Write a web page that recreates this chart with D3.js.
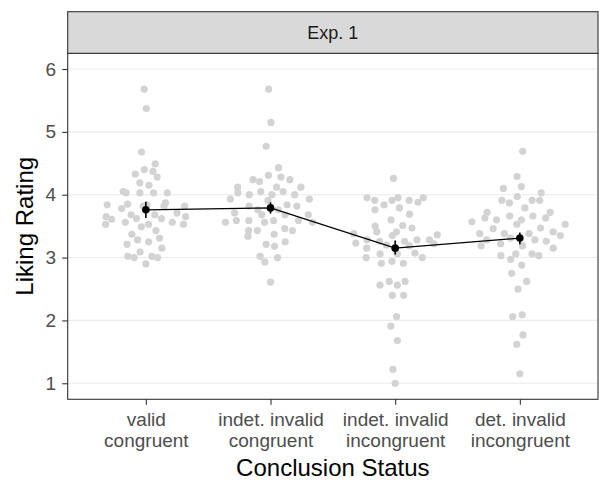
<!DOCTYPE html>
<html>
<head>
<meta charset="utf-8">
<script src="https://cdn.jsdelivr.net/npm/d3@7"></script>
<style>
  body { margin: 0; background: #fff; }
  svg { display: block; font-family: "Liberation Sans", Arial, sans-serif; }
</style>
</head>
<body>
<div id="viz"></div>
<script>
// conditions on the x axis
const categories = ['valid congruent', 'indet. invalid congruent', 'indet. invalid incongruent', 'det. invalid incongruent'];
const tickLabels = [['valid', 'congruent'], ['indet. invalid', 'congruent'], ['indet. invalid', 'incongruent'], ['det. invalid', 'incongruent']];
const yTicks = [1, 2, 3, 4, 5, 6];

// participant liking ratings per condition
const validCongruent = [5.68, 5.37, 4.68, 4.49, 4.40, 4.37, 4.33, 4.28, 4.19, 4.15, 4.05, 4.03, 4.03, 4.03, 4.03,
    3.87, 3.85, 3.84, 3.84, 3.82, 3.82, 3.82, 3.78, 3.71, 3.68, 3.68, 3.65, 3.65, 3.62, 3.62, 3.61, 3.56, 3.56,
    3.53, 3.53, 3.53, 3.49, 3.43, 3.37, 3.31, 3.28, 3.25, 3.21, 3.15, 3.09, 3.02, 3.02, 3.00, 3.00, 2.90];
const indetInvalidCongruent = [5.68, 5.15, 4.77, 4.43, 4.31, 4.28, 4.24, 4.24, 4.21, 4.12, 4.12, 4.12, 4.05, 4.05,
    4.03, 4.00, 4.00, 4.00, 3.93, 3.93, 3.91, 3.84, 3.82, 3.82, 3.76, 3.76, 3.71, 3.68, 3.68, 3.68, 3.59, 3.59,
    3.59, 3.59, 3.56, 3.56, 3.56, 3.46, 3.43, 3.43, 3.43, 3.37, 3.34, 3.25, 3.21, 3.18, 3.02, 3.00, 2.93, 2.61];
const indetInvalidIncongruent = [4.26, 3.95, 3.95, 3.95, 3.91, 3.91, 3.91, 3.88, 3.84, 3.79, 3.76, 3.69, 3.60,
    3.51, 3.50, 3.47, 3.41, 3.41, 3.38, 3.36, 3.35, 3.28, 3.28, 3.28, 3.26, 3.26, 3.23, 3.22, 3.20, 3.19, 3.15,
    3.07, 3.06, 3.06, 3.00, 3.00, 2.94, 2.91, 2.91, 2.62, 2.62, 2.56, 2.56, 2.40, 2.40, 2.06, 1.91, 1.68, 1.22, 1.00];
const detInvalidIncongruent = [4.69, 4.29, 4.13, 4.10, 4.03, 3.97, 3.91, 3.91, 3.91, 3.87, 3.79, 3.72, 3.72, 3.66,
    3.66, 3.63, 3.63, 3.60, 3.60, 3.57, 3.53, 3.53, 3.47, 3.46, 3.41, 3.38, 3.38, 3.38, 3.35, 3.31, 3.28, 3.28,
    3.26, 3.22, 3.19, 3.19, 3.15, 3.06, 3.06, 3.03, 3.03, 2.97, 2.88, 2.75, 2.62, 2.50, 2.09, 2.06, 1.77, 1.62, 1.15];

// condition means with error bars
const meanRatings = [3.76, 3.79, 3.15, 3.31];
const ciLower = [3.63, 3.70, 3.05, 3.21];
const ciUpper = [3.89, 3.88, 3.27, 3.40];

const ratings = [validCongruent, indetInvalidCongruent, indetInvalidIncongruent, detInvalidIncongruent];

const width = 599;
const height = 483;
const panel = { left: 67.7, right: 598, top: 53.3, bottom: 399.3 };
const stripTop = 11.7;

const borderColour = '#333333';
const gridColour = '#ebebeb';
const dotColour = '#d3d3d3';
const tickTextColour = '#4d4d4d';
const fontFamily = '"Liberation Sans", Arial, sans-serif';

const xScale = d3.scalePoint()
    .domain(categories)
    .range([panel.left, panel.right])
    .padding(0.627);

const yScale = d3.scaleLinear()
    .domain([0.745, 6.25])
    .range([panel.bottom, panel.top]);

// van der corput sequence, base 2
function vanDerCorput(n) {
    const out = [];
    for (let i = 1; i <= n; i++) {
        let k = i, f = 0.5, v = 0;
        while (k > 0) {
            v += f * (k % 2);
            k = Math.floor(k / 2);
            f /= 2;
        }
        out.push(v);
    }
    return out;
}

// quasirandom offsets (like ggbeeswarm::geom_quasirandom), in [-1, 1]
function quasirandom(vals, adjust) {
    const n = vals.length;
    const sd = d3.deviation(vals);
    const sorted = vals.slice().sort(d3.ascending);
    const iqr = d3.quantileSorted(sorted, 0.75) - d3.quantileSorted(sorted, 0.25);
    const bw = 0.9 * Math.min(sd, iqr / 1.34) * Math.pow(n, -0.2) * adjust;
    const dens = (y) => d3.sum(vals, (v) => Math.exp(-0.5 * ((y - v) / bw) ** 2));
    const grid = d3.range(sorted[0] - 3 * bw, sorted[n - 1] + 3 * bw, bw / 20);
    const maxDens = d3.max(grid, dens);
    const order = d3.range(n).sort((a, b) => vals[a] - vals[b] || a - b);
    const seq = vanDerCorput(n);
    const out = new Array(n);
    order.forEach((idx, r) => {
        out[idx] = (seq[r] - 0.5) * 2 * dens(vals[idx]) / maxDens;
    });
    return out;
}

const points = [];
ratings.forEach((vals, i) => {
    const offs = quasirandom(vals, 0.5);
    vals.forEach((v, j) => {
        points.push({ cat: categories[i], value: v, offset: offs[j] });
    });
});

const svg = d3.select('#viz').append('svg')
    .attr('width', width)
    .attr('height', height)
    .style('background', '#ffffff');

// gridlines
svg.append('g').selectAll('line').data(yTicks)
    .enter().append('line')
        .attr('x1', panel.left)
        .attr('x2', panel.right)
        .attr('y1', (d) => yScale(d))
        .attr('y2', (d) => yScale(d))
        .attr('stroke', gridColour)
        .attr('stroke-width', 1.1);

// grey swarm of participant ratings
const spread = 0.4 * xScale.step();
svg.append('g').selectAll('circle').data(points)
    .enter().append('circle')
        .attr('cx', (d) => xScale(d.cat) + d.offset * spread)
        .attr('cy', (d) => yScale(d.value))
        .attr('r', 3.6)
        .attr('fill', dotColour);

// line through the means
const meanLine = d3.line()
    .x((d, i) => xScale(categories[i]))
    .y((d) => yScale(d));

svg.append('path')
    .datum(meanRatings)
    .attr('d', meanLine)
    .attr('fill', 'none')
    .attr('stroke', '#000')
    .attr('stroke-width', 1.3);

svg.append('g').selectAll('line').data(meanRatings)
    .enter().append('line')
        .attr('x1', (d, i) => xScale(categories[i]))
        .attr('x2', (d, i) => xScale(categories[i]))
        .attr('y1', (d, i) => yScale(ciLower[i]))
        .attr('y2', (d, i) => yScale(ciUpper[i]))
        .attr('stroke', '#000')
        .attr('stroke-width', 1.6);

svg.append('g').selectAll('circle').data(meanRatings)
    .enter().append('circle')
        .attr('cx', (d, i) => xScale(categories[i]))
        .attr('cy', (d) => yScale(d))
        .attr('r', 3.8)
        .attr('fill', '#000');

// panel border
svg.append('rect')
    .attr('x', panel.left)
    .attr('y', panel.top)
    .attr('width', panel.right - panel.left)
    .attr('height', panel.bottom - panel.top)
    .attr('fill', 'none')
    .attr('stroke', borderColour)
    .attr('stroke-width', 1.1);

// facet strip
svg.append('rect')
    .attr('x', panel.left)
    .attr('y', stripTop)
    .attr('width', panel.right - panel.left)
    .attr('height', panel.top - stripTop)
    .attr('fill', '#d9d9d9')
    .attr('stroke', borderColour)
    .attr('stroke-width', 1.1);

svg.append('text')
    .attr('x', (panel.left + panel.right) / 2)
    .attr('y', (stripTop + panel.top) / 2)
    .attr('dy', '0.35em')
    .attr('text-anchor', 'middle')
    .attr('fill', '#1a1a1a')
    .style('font-size', '18px')
    .text('Exp. 1');

// axes
const yAxis = svg.append('g')
    .attr('transform', 'translate(' + panel.left + ',0)')
    .call(d3.axisLeft(yScale).tickValues(yTicks).tickFormat(d3.format('d')).tickSize(5.5).tickPadding(6));
yAxis.select('.domain').remove();
yAxis.selectAll('line').attr('stroke', borderColour).attr('stroke-width', 1.1);
yAxis.selectAll('text')
    .attr('fill', tickTextColour)
    .style('font-size', '19px')
    .style('font-family', fontFamily);

const xAxis = svg.append('g')
    .attr('transform', 'translate(0,' + panel.bottom + ')')
    .call(d3.axisBottom(xScale).tickSize(5.5).tickPadding(5).tickFormat(''));
xAxis.select('.domain').remove();
xAxis.selectAll('line').attr('stroke', borderColour).attr('stroke-width', 1.1);
xAxis.selectAll('text')
    .attr('fill', tickTextColour)
    .attr('y', 0)
    .attr('dy', null)
    .style('font-size', '19px')
    .style('font-family', fontFamily)
    .each(function(d, i) {
        const t = d3.select(this);
        tickLabels[i].forEach((line, k) => {
            t.append('tspan')
                .attr('x', 0)
                .attr('y', 26.5 + k * 21.5)
                .text(line);
        });
    });

// axis titles
svg.append('text')
    .attr('x', (panel.left + panel.right) / 2)
    .attr('y', 476)
    .attr('text-anchor', 'middle')
    .attr('fill', '#000')
    .style('font-size', '24px')
    .text('Conclusion Status');

svg.append('text')
    .attr('transform', 'translate(33,' + ((panel.top + panel.bottom) / 2) + ') rotate(-90)')
    .attr('text-anchor', 'middle')
    .attr('fill', '#000')
    .style('font-size', '24px')
    .text('Liking Rating');
</script>
</body>
</html>
